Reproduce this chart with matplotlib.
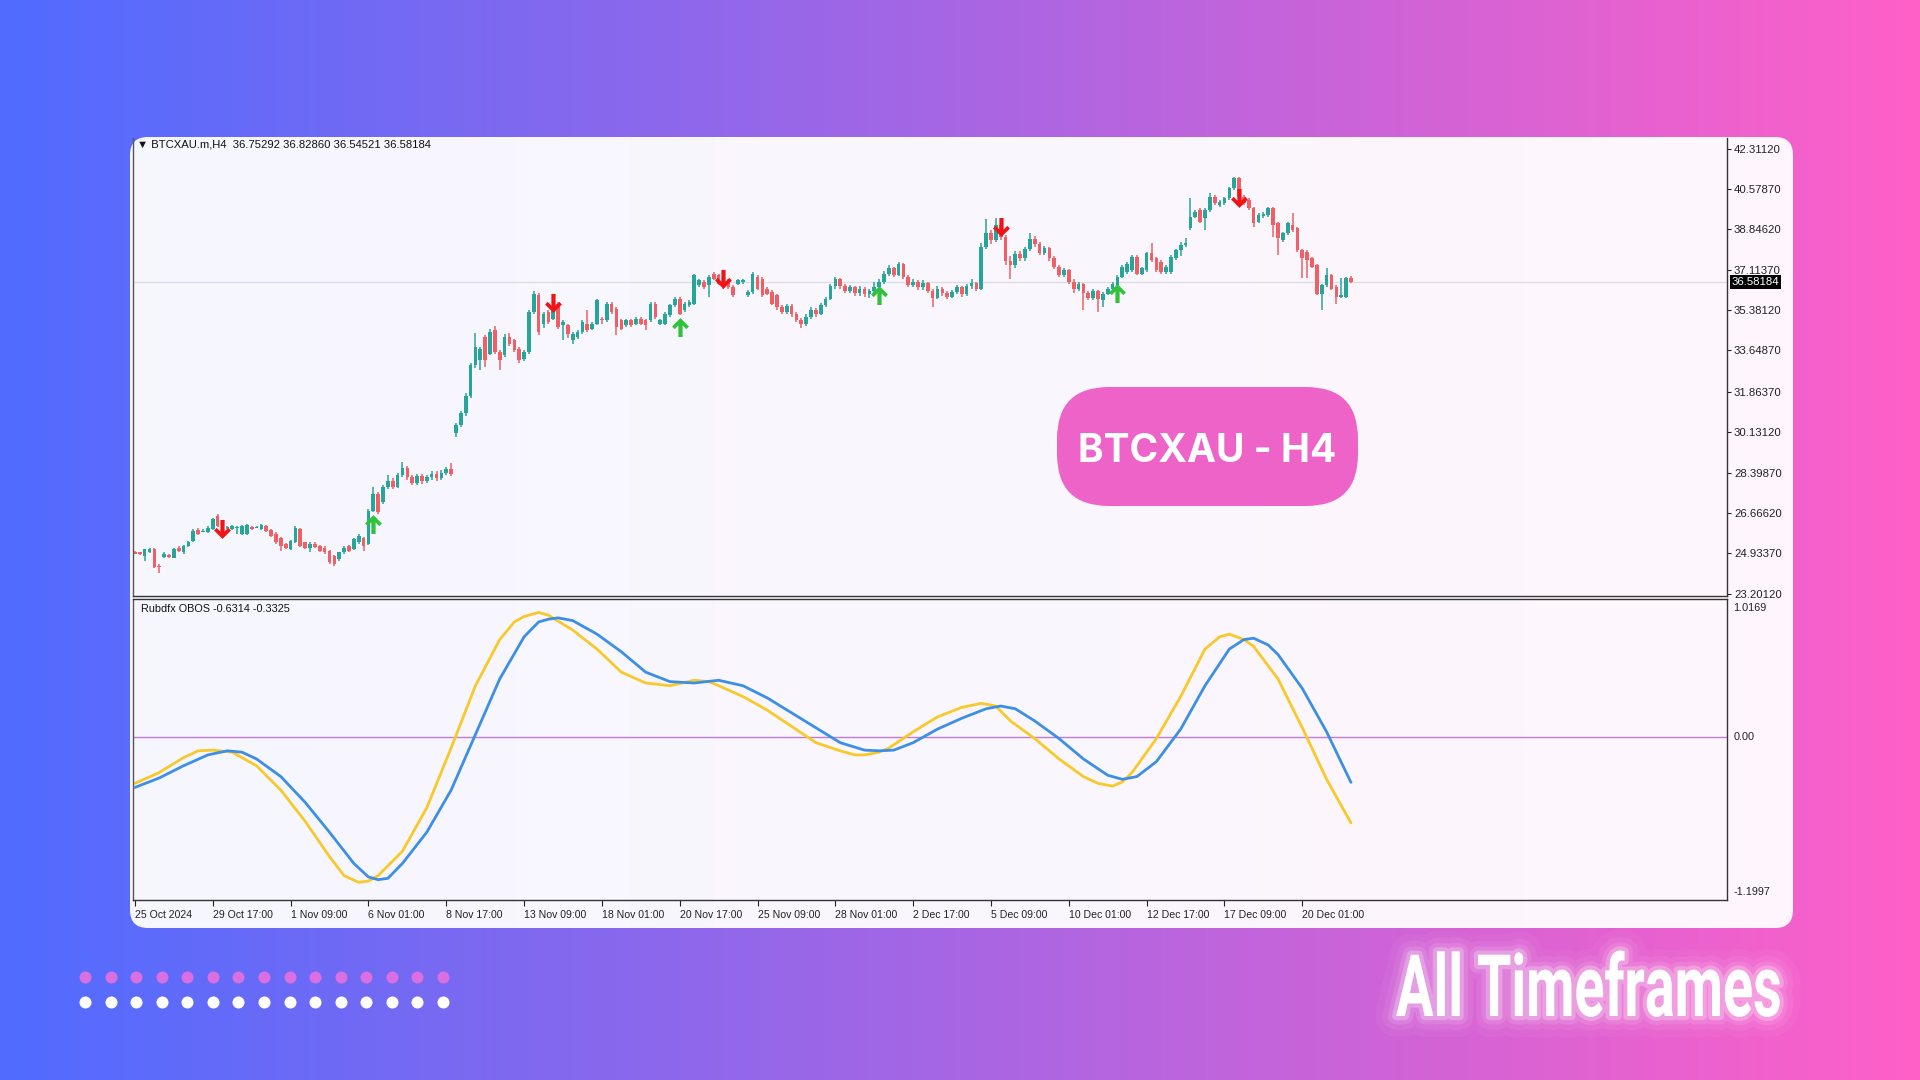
import numpy as np
import matplotlib
matplotlib.use("Agg")
import matplotlib.pyplot as plt
import matplotlib.patheffects as pe
from matplotlib import font_manager
from matplotlib.patches import FancyBboxPatch
from matplotlib.path import Path
from matplotlib.transforms import Affine2D, blended_transform_factory

W, H = 1920, 1080

# ---- price data (H4 bars) ----
bar_open = [
    25.01, 24.97, 24.82, 24.97, 25.11, 24.40, 24.78, 24.85, 24.75, 25.18,
    24.97, 25.26, 25.47, 25.93, 25.87, 25.83, 25.97, 26.55, 26.19, 26.01,
    25.97, 26.03, 25.76, 25.76, 26.07, 26.03, 25.97, 26.12, 25.93, 25.76,
    25.61, 25.33, 25.11, 25.40, 25.97, 25.40, 25.18, 25.35, 25.26, 25.18,
    25.04, 24.82, 24.68, 24.97, 25.23, 25.11, 25.40, 25.61, 25.33, 26.76,
    27.48, 27.12, 27.77, 28.05, 27.80, 28.30, 28.60, 28.20, 27.95, 28.25,
    28.05, 28.20, 28.35, 28.15, 28.40, 28.55, 30.10, 30.45, 30.95, 31.70,
    33.00, 33.22, 34.22, 33.51, 34.51, 33.58, 33.43, 34.22, 34.08, 33.72,
    33.29, 33.58, 35.30, 36.02, 34.80, 35.30, 35.01, 35.66, 34.72, 34.72,
    34.08, 34.22, 34.44, 34.80, 34.58, 34.80, 35.01, 34.94, 35.66, 35.44,
    34.94, 34.72, 34.94, 34.80, 35.01, 34.94, 34.94, 35.66, 34.80, 34.80,
    35.16, 35.59, 35.87, 35.37, 35.59, 35.66, 36.45, 36.59, 36.45, 36.95,
    36.88, 36.73, 36.66, 36.38, 36.52, 36.59, 36.02, 36.16, 36.81, 36.73,
    36.30, 36.16, 36.02, 35.51, 35.30, 35.55, 35.20, 34.95, 34.80, 35.10,
    35.40, 35.20, 35.60, 35.85, 36.40, 36.70, 36.40, 36.20, 36.35, 36.10,
    36.30, 36.05, 36.20, 36.35, 36.60, 36.95, 37.20, 36.90, 37.35, 36.80,
    36.45, 36.60, 36.35, 36.55, 36.20, 35.90, 36.30, 36.10, 35.95, 36.15,
    36.35, 36.05, 36.40, 36.55, 36.30, 38.10, 38.70, 38.40, 39.05, 38.50,
    37.50, 37.30, 37.80, 37.60, 38.00, 38.45, 38.20, 37.85, 38.05, 37.60,
    37.25, 36.90, 37.10, 36.60, 36.30, 36.50, 36.10, 35.90, 36.20, 35.80,
    36.09, 36.30, 36.45, 36.81, 37.02, 37.09, 37.67, 36.95, 37.09, 37.81,
    37.60, 37.45, 37.02, 37.02, 37.60, 37.95, 38.17, 38.89, 39.39, 39.68,
    39.32, 39.68, 40.25, 39.89, 39.96, 40.18, 40.61, 41.04, 40.25, 40.11,
    39.75, 39.17, 39.42, 39.46, 39.75, 39.10, 38.39, 38.67, 39.03, 38.89,
    37.95, 37.88, 37.60, 37.31, 36.09, 36.45, 36.88, 36.38, 35.95, 35.95,
    36.75,
]
bar_close = [
    24.92, 24.90, 25.11, 25.11, 24.35, 24.33, 24.92, 24.78, 25.11, 25.04,
    25.26, 25.40, 25.90, 25.76, 25.90, 26.04, 26.40, 26.12, 26.04, 26.06,
    26.12, 26.07, 26.12, 26.16, 25.97, 26.06, 26.16, 25.90, 25.69, 25.40,
    25.26, 25.18, 25.47, 26.04, 25.26, 25.18, 25.35, 25.21, 25.04, 24.97,
    24.54, 24.47, 24.97, 25.18, 25.04, 25.54, 25.69, 25.26, 26.76, 27.48,
    26.69, 27.77, 28.05, 27.80, 28.30, 28.60, 28.20, 27.95, 28.25, 28.05,
    28.20, 28.35, 28.15, 28.40, 28.55, 28.35, 30.45, 30.95, 31.70, 33.00,
    33.80, 33.72, 33.22, 34.44, 33.58, 33.22, 34.22, 33.94, 33.65, 33.22,
    33.58, 35.30, 36.09, 34.44, 35.23, 34.87, 35.44, 34.65, 34.87, 34.37,
    34.37, 34.44, 34.87, 34.51, 34.80, 35.80, 34.94, 35.66, 35.30, 34.65,
    34.58, 34.94, 34.72, 35.01, 34.80, 34.72, 35.66, 35.08, 34.94, 35.23,
    35.59, 35.87, 35.23, 35.66, 35.73, 36.88, 36.66, 36.38, 36.81, 36.73,
    36.52, 36.38, 36.38, 36.02, 36.66, 36.66, 36.16, 36.95, 36.30, 36.02,
    36.09, 35.66, 35.51, 35.30, 35.55, 35.20, 34.95, 34.80, 35.10, 35.40,
    35.20, 35.60, 35.85, 36.40, 36.70, 36.40, 36.20, 36.35, 36.10, 36.30,
    36.05, 36.20, 36.35, 36.60, 36.95, 37.20, 36.90, 37.35, 36.80, 36.45,
    36.60, 36.35, 36.55, 36.20, 35.90, 36.30, 36.10, 35.95, 36.15, 36.35,
    36.05, 36.40, 36.55, 36.30, 38.10, 38.70, 38.40, 39.05, 38.50, 37.50,
    37.30, 37.80, 37.60, 38.00, 38.45, 38.20, 37.85, 38.05, 37.60, 37.25,
    36.90, 37.10, 36.60, 36.30, 36.50, 36.10, 35.90, 36.20, 35.85, 36.09,
    36.30, 36.52, 36.81, 37.24, 37.38, 37.67, 36.95, 37.17, 37.81, 37.52,
    37.09, 37.02, 37.24, 37.67, 37.95, 38.17, 38.24, 39.39, 39.61, 39.17,
    39.68, 40.25, 39.96, 40.04, 40.18, 40.61, 41.04, 40.25, 39.96, 39.75,
    39.10, 39.46, 39.50, 39.75, 39.03, 38.46, 38.67, 39.10, 38.82, 37.95,
    37.60, 37.52, 37.24, 36.09, 36.45, 36.88, 36.30, 35.95, 36.02, 36.74,
    36.58,
]
bar_high = [
    25.04, 25.01, 25.13, 25.18, 25.15, 24.47, 24.97, 24.90, 25.15, 25.23,
    25.30, 25.47, 25.97, 26.00, 25.97, 26.09, 26.45, 26.62, 26.26, 26.12,
    26.16, 26.12, 26.16, 26.19, 26.12, 26.09, 26.19, 26.16, 25.97, 25.83,
    25.65, 25.37, 25.51, 26.12, 26.04, 25.43, 25.40, 25.40, 25.30, 25.23,
    25.08, 24.86, 25.01, 25.23, 25.30, 25.61, 25.76, 25.65, 26.83, 27.77,
    27.55, 27.85, 28.30, 28.15, 28.40, 28.85, 28.70, 28.30, 28.35, 28.35,
    28.30, 28.45, 28.45, 28.50, 28.65, 28.80, 30.55, 31.05, 31.80, 33.10,
    34.40, 33.80, 34.30, 34.55, 34.70, 33.65, 34.35, 34.40, 34.15, 33.80,
    33.65, 35.40, 36.20, 36.10, 35.30, 35.37, 35.51, 35.73, 34.94, 34.80,
    34.44, 34.51, 34.94, 35.37, 34.87, 35.87, 35.08, 35.73, 35.73, 35.51,
    35.01, 35.01, 35.01, 35.08, 35.08, 35.01, 35.73, 35.73, 35.01, 35.30,
    35.66, 35.95, 35.95, 35.73, 35.80, 36.95, 36.73, 36.66, 36.88, 37.02,
    36.95, 36.81, 36.73, 36.45, 36.73, 36.73, 36.23, 37.02, 36.88, 36.81,
    36.38, 36.23, 36.09, 35.60, 35.65, 35.62, 35.30, 35.05, 35.20, 35.50,
    35.48, 35.70, 35.95, 36.50, 36.80, 36.75, 36.50, 36.45, 36.40, 36.40,
    36.35, 36.30, 36.60, 36.70, 37.05, 37.30, 37.25, 37.45, 37.40, 36.90,
    36.70, 36.68, 36.65, 36.60, 36.30, 36.40, 36.38, 36.20, 36.25, 36.45,
    36.42, 36.50, 36.70, 36.60, 38.25, 39.30, 38.80, 39.35, 39.10, 38.60,
    37.70, 37.90, 37.90, 38.10, 38.70, 38.55, 38.30, 38.15, 38.10, 37.70,
    37.30, 37.20, 37.15, 36.70, 36.60, 36.55, 36.20, 36.30, 36.25, 36.16,
    36.38, 36.59, 36.88, 37.31, 37.45, 37.74, 37.74, 37.24, 37.88, 38.24,
    37.67, 37.52, 37.31, 37.74, 38.02, 38.30, 38.46, 40.18, 39.68, 39.75,
    39.75, 40.39, 40.32, 40.11, 40.25, 40.68, 41.11, 41.11, 40.32, 40.18,
    39.82, 39.53, 39.60, 39.82, 39.82, 39.17, 38.74, 39.17, 39.53, 38.96,
    38.02, 37.95, 37.67, 37.38, 36.52, 37.17, 36.95, 36.45, 36.74, 36.81,
    36.83,
]
bar_low = [
    24.90, 24.85, 24.61, 24.95, 24.32, 24.07, 24.75, 24.72, 24.72, 25.01,
    24.92, 25.21, 25.40, 25.72, 25.83, 25.80, 25.93, 26.07, 25.97, 25.97,
    25.93, 25.76, 25.72, 25.72, 25.93, 26.00, 25.93, 25.87, 25.65, 25.35,
    25.04, 25.11, 25.07, 25.37, 25.21, 25.11, 24.97, 25.16, 25.00, 24.92,
    24.47, 24.40, 24.61, 24.92, 25.00, 25.07, 25.35, 25.04, 25.29, 26.69,
    26.62, 27.05, 27.70, 27.70, 27.75, 28.20, 28.10, 27.85, 27.85, 27.90,
    27.95, 28.10, 28.05, 28.10, 28.30, 28.25, 29.95, 30.35, 30.85, 31.60,
    32.90, 32.79, 32.93, 33.43, 33.50, 32.79, 33.36, 33.85, 33.58, 33.10,
    33.20, 33.51, 35.20, 34.30, 34.60, 34.80, 34.94, 34.58, 34.08, 34.20,
    33.94, 34.15, 34.37, 34.44, 34.51, 34.72, 34.80, 34.87, 35.23, 34.30,
    34.51, 34.65, 34.65, 34.72, 34.72, 34.51, 34.87, 35.01, 34.72, 34.72,
    35.08, 35.51, 35.16, 35.30, 35.51, 35.59, 36.38, 36.30, 35.95, 36.66,
    36.45, 36.30, 36.30, 35.95, 36.45, 36.52, 35.95, 36.09, 36.23, 35.95,
    36.02, 35.59, 35.37, 35.20, 35.20, 35.10, 34.85, 34.60, 34.70, 35.00,
    35.10, 35.15, 35.50, 35.80, 36.30, 36.30, 36.10, 36.10, 36.00, 36.00,
    35.95, 35.90, 36.10, 36.25, 36.50, 36.85, 36.80, 36.85, 36.70, 36.35,
    36.35, 36.25, 36.25, 36.10, 35.50, 35.85, 36.00, 35.85, 35.90, 36.05,
    35.95, 36.00, 36.30, 36.20, 36.25, 38.00, 38.20, 38.30, 38.40, 37.30,
    36.70, 37.20, 37.50, 37.50, 37.90, 38.10, 37.75, 37.75, 37.50, 37.15,
    36.80, 36.80, 36.50, 36.10, 36.20, 35.40, 35.80, 35.80, 35.30, 35.52,
    36.02, 36.23, 36.38, 36.74, 36.95, 37.02, 36.88, 36.88, 37.02, 37.45,
    37.02, 36.95, 36.95, 36.95, 37.52, 37.70, 38.10, 38.82, 39.32, 39.10,
    38.82, 39.61, 39.89, 39.82, 39.89, 40.11, 40.54, 40.18, 39.89, 39.68,
    38.96, 39.10, 39.35, 39.39, 38.53, 37.74, 38.32, 38.60, 38.75, 37.88,
    36.74, 36.74, 37.17, 36.02, 35.37, 36.38, 36.23, 35.66, 35.88, 35.88,
    36.55,
]
last_price = 36.58184

# signal arrows (bar index, price level)
sell_bars = [18, 86, 121, 178, 227]
sell_prices = [25.93, 35.66, 36.66, 38.92, 40.14]
buy_bars = [49, 112, 153, 202]
buy_prices = [26.22, 34.68, 36.08, 36.16]

# ---- Rubdfx OBOS oscillator ----
fast_bars = [0, 5, 10, 13, 16, 20, 25, 30, 35, 40, 43, 46, 48, 50, 55, 60, 65, 70,
             75, 78, 80, 83, 85, 90, 95, 100, 105, 110, 115, 118, 120, 125, 130,
             135, 140, 145, 148, 150, 153, 155, 160, 165, 170, 174, 177, 180, 185,
             190, 195, 198, 201, 203, 205, 210, 215, 220, 223, 225, 228, 230, 235,
             240, 245, 250]
fast_vals = [-0.34, -0.26, -0.15, -0.10, -0.095, -0.11, -0.21, -0.39, -0.62, -0.88,
             -1.02, -1.07, -1.06, -1.02, -0.84, -0.52, -0.08, 0.38, 0.72, 0.85,
             0.89, 0.92, 0.90, 0.79, 0.65, 0.48, 0.40, 0.38, 0.42, 0.41, 0.38,
             0.30, 0.20, 0.08, -0.04, -0.10, -0.13, -0.13, -0.11, -0.08, 0.04,
             0.15, 0.22, 0.25, 0.23, 0.12, -0.01, -0.16, -0.29, -0.34, -0.36,
             -0.33, -0.26, -0.01, 0.30, 0.65, 0.74, 0.76, 0.72, 0.67, 0.43, 0.07,
             -0.31, -0.6314]
slow_bars = [0, 5, 10, 15, 19, 22, 25, 30, 35, 40, 45, 48, 50, 52, 55, 60, 65, 70,
             75, 80, 83, 85, 87, 90, 95, 100, 105, 110, 115, 120, 125, 130, 135,
             140, 145, 150, 153, 156, 160, 165, 170, 175, 178, 181, 185, 190, 195,
             200, 203, 206, 210, 215, 220, 225, 228, 230, 233, 235, 240, 245, 250]
slow_vals = [-0.37, -0.30, -0.21, -0.13, -0.10, -0.11, -0.16, -0.29, -0.48, -0.70,
             -0.93, -1.03, -1.05, -1.04, -0.93, -0.70, -0.39, 0.02, 0.43, 0.74,
             0.85, 0.87, 0.88, 0.86, 0.76, 0.63, 0.48, 0.41, 0.40, 0.42, 0.38,
             0.29, 0.18, 0.07, -0.04, -0.095, -0.10, -0.095, -0.04, 0.06, 0.14,
             0.21, 0.23, 0.21, 0.12, -0.01, -0.16, -0.28, -0.31, -0.29, -0.18,
             0.06, 0.38, 0.65, 0.72, 0.73, 0.68, 0.61, 0.36, 0.04, -0.3325]

price_ticks = ["42.31120", "40.57870", "38.84620", "37.11370", "35.38120", "33.64870",
               "31.86370", "30.13120", "28.39870", "26.66620", "24.93370", "23.20120"]
date_bars = [0, 16, 32, 48, 64, 80, 96, 112, 128, 144, 160, 176, 192, 208, 224, 240]
date_labels = ["25 Oct 2024", "29 Oct 17:00", "1 Nov 09:00", "6 Nov 01:00", "8 Nov 17:00",
               "13 Nov 09:00", "18 Nov 01:00", "20 Nov 17:00", "25 Nov 09:00",
               "28 Nov 01:00", "2 Dec 17:00", "5 Dec 09:00", "10 Dec 01:00",
               "12 Dec 17:00", "17 Dec 09:00", "20 Dec 01:00"]
osc_min, osc_max = -1.1997, 1.0169

TEAL = "#26a69a"
RED = "#ef5f64"

installed = {f.name for f in font_manager.fontManager.ttflist}


def pick(*names):
    for n in names:
        if n in installed:
            return n
    return "DejaVu Sans"


MT_FONT = [pick("Liberation Sans", "DejaVu Sans"), "DejaVu Sans"]
BADGE_FONT = pick("Inter", "Roboto", "Open Sans")
BANNER_FONT = pick("Roboto", "Open Sans", "DejaVu Sans")


class Squeeze(pe.AbstractPathEffect):
    # narrow the glyphs horizontally around x0 (display px)
    def __init__(self, inner, sx, x0):
        super().__init__()
        self.inner, self.sx, self.x0 = inner, sx, x0

    def draw_path(self, renderer, gc, tpath, affine, rgbFace=None):
        aff = affine + Affine2D().translate(-self.x0, 0).scale(self.sx, 1).translate(self.x0, 0)
        self.inner.draw_path(renderer, gc, tpath, aff, rgbFace)


fig = plt.figure(figsize=(19.2, 10.8), dpi=100)

# background gradient + card
bg = fig.add_axes([0, 0, 1, 1], zorder=0)
bg.set_xlim(0, W)
bg.set_ylim(H, 0)
bg.axis("off")
t = np.linspace(0, 1, 256)[:, None]
c_left = np.array([80, 108, 255]) / 255
c_right = np.array([255, 96, 200]) / 255
grad = c_left * (1 - t) + c_right * t
bg.imshow(grad[None, :, :], extent=[0, W, H, 0], aspect="auto", interpolation="bicubic")
bg.add_patch(FancyBboxPatch((130, 137), 1663, 791, boxstyle="round,pad=0,rounding_size=18",
                            fc="white", ec="none", alpha=0.95))

# decorative dots
dot_x = np.linspace(85, 443, 15)
bg.scatter(dot_x, np.full(15, 977), s=75, color="#d96fe0", linewidths=0)
bg.scatter(dot_x, np.full(15, 1002), s=75, color="white", linewidths=0)

# banner text with glow (centred, squeezed to a condensed look)
banner_cx = 1589
banner = bg.text(banner_cx, 1016, "All Timeframes", fontsize=62, fontweight="bold",
                 family=BANNER_FONT, color="white", ha="center", va="baseline")
fig.canvas.draw()
sx = 386 / banner.get_window_extent().width
glow = [pe.Stroke(linewidth=30, foreground="#ffd6f4", alpha=0.05),
        pe.Stroke(linewidth=20, foreground="#ffdcf5", alpha=0.08),
        pe.Stroke(linewidth=12, foreground="#ffe6f8", alpha=0.13),
        pe.Stroke(linewidth=6, foreground="white", alpha=0.25),
        pe.Normal()]
banner.set_path_effects([Squeeze(g, sx, banner_cx) for g in glow])

# ---- price panel ----
x_left, x_right = 133, 1727
ax = fig.add_axes([x_left / W, 1 - 596 / H, (x_right - x_left) / W, (596 - 138) / H], zorder=1)
ax.set_facecolor("none")
o = np.array(bar_open)
c = np.array(bar_close)
hi = np.array(bar_high)
lo = np.array(bar_low)
idx = np.arange(len(c))
cols = np.where(c >= o, TEAL, RED)
ax.axhline(last_price, color="#dcdce4", lw=0.9, zorder=0.5)
ax.vlines(idx, lo, hi, colors=cols, lw=1.1, zorder=2)
ax.bar(idx, np.maximum(np.abs(c - o), 0.03), bottom=np.minimum(o, c), width=0.75,
       color=cols, linewidth=0, zorder=2)

down_v = [(-0.2, 1), (0.2, 1), (0.2, -0.1), (0.55, 0.25), (0.8, 0.0), (0, -0.8),
          (-0.8, 0.0), (-0.55, 0.25), (-0.2, -0.1), (-0.2, 1)]
codes = [Path.MOVETO] + [Path.LINETO] * 8 + [Path.CLOSEPOLY]
down_arrow = Path(down_v, codes)
up_arrow = Path([(x, -y) for x, y in down_v], codes)
ax.scatter(sell_bars, sell_prices, marker=down_arrow, s=230, color="#f01414", linewidths=0, zorder=4)
ax.scatter(buy_bars, buy_prices, marker=up_arrow, s=230, color="#2fc23a", linewidths=0, zorder=4)

ax.set_xlim(-0.4, (x_right - 132.3) / 4.872)
ax.set_ylim(23.10, 42.77)
ax.set_xticks([])
ax.yaxis.tick_right()
ax.set_yticks([float(v) for v in price_ticks])
ax.set_yticklabels(price_ticks)
ax.tick_params(axis="y", direction="out", length=3, width=0.8, pad=2, labelsize=8.2,
               colors="#222222")
for lbl in ax.get_yticklabels():
    lbl.set_family(MT_FONT)
ax.spines["top"].set_visible(False)
ax.spines["left"].set_color("#555555")
ax.spines["right"].set_color("#333333")
ax.spines["bottom"].set_color("#333333")
for s in ax.spines.values():
    s.set_linewidth(1.0)

ax.text(0.0025, 0.985, "\u25bc BTCXAU.m,H4  36.75292 36.82860 36.54521 36.58184",
        transform=ax.transAxes, ha="left", va="center", fontsize=8.1, family=MT_FONT,
        color="#111111")
trans = blended_transform_factory(ax.transAxes, ax.transData)
ax.text(1.003, last_price, "%.5f" % last_price, transform=trans, ha="left", va="center",
        fontsize=8.2, family=MT_FONT, color="white",
        bbox=dict(fc="black", ec="none", pad=1.2), zorder=5, clip_on=False)

# ---- oscillator panel ----
ax2 = fig.add_axes([x_left / W, 1 - 900 / H, (x_right - x_left) / W, (900 - 599.3) / H], zorder=1)
ax2.set_facecolor("none")
ax2.axhline(0, color="#c27ad8", lw=1.0, zorder=1)
ax2.plot(fast_bars, fast_vals, color="#f9c92a", lw=2.0, solid_capstyle="round", zorder=2)
ax2.plot(slow_bars, slow_vals, color="#3d8fe6", lw=2.0, solid_capstyle="round", zorder=3)
ax2.set_xlim(ax.get_xlim())
ax2.set_ylim(osc_min, osc_max)
ax2.set_yticks([])
ax2.set_xticks(date_bars)
ax2.set_xticklabels(date_labels, ha="left")
ax2.tick_params(axis="x", direction="out", length=4, width=0.8, pad=3, labelsize=7.6,
                colors="#222222")
for lbl in ax2.get_xticklabels():
    lbl.set_family(MT_FONT)
for s in ax2.spines.values():
    s.set_color("#333333")
    s.set_linewidth(1.0)
ax2.spines["left"].set_color("#555555")

ax2.text(0.005, 0.968, "Rubdfx OBOS %.4f %.4f" % (fast_vals[-1], slow_vals[-1]),
         transform=ax2.transAxes, ha="left", va="center", fontsize=7.8, family=MT_FONT,
         color="#111111")
trans2 = blended_transform_factory(ax2.transAxes, ax2.transData)
for val, txt, va in [(osc_max - 0.03, "%.4f" % osc_max, "top"), (0, "0.00", "center"),
                     (osc_min + 0.02, "%.4f" % osc_min, "bottom")]:
    ax2.text(1.004, val, txt, transform=trans2, ha="left", va=va, fontsize=7.8,
             family=MT_FONT, color="#222222", clip_on=False)

# ---- badge ----
ov = fig.add_axes([0, 0, 1, 1], zorder=3)
ov.set_xlim(0, W)
ov.set_ylim(H, 0)
ov.axis("off")
ov.patch.set_alpha(0)
ov.add_patch(FancyBboxPatch((1057, 387), 301, 119, boxstyle="round,pad=0,rounding_size=52",
                            fc="#ee63c8", ec="none"))
ov.text(1207.5, 451, "BTCXAU - H4", fontsize=28, fontweight="bold", family=BADGE_FONT,
        color="white", ha="center", va="center")

fig.savefig("out.png", dpi=100)
